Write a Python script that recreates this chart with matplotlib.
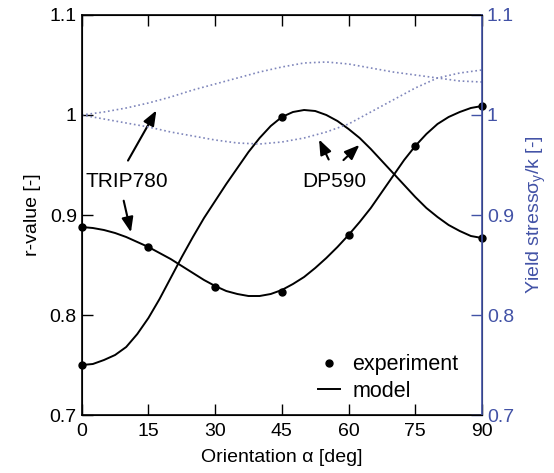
import numpy as np
import matplotlib
matplotlib.use("Agg")
import matplotlib.pyplot as plt

plt.rcParams['font.family'] = ['Liberation Sans', 'DejaVu Sans']
plt.rcParams['mathtext.default'] = 'regular'

# r-value model curves, read every 2.5 deg
angles_fine = np.arange(0, 92.5, 2.5)
r_dp590_model = [0.750, 0.751, 0.755, 0.760, 0.768, 0.781, 0.797, 0.816, 0.837, 0.858,
                 0.878, 0.897, 0.914, 0.931, 0.947, 0.963, 0.977, 0.989, 0.998, 1.003,
                 1.005, 1.004, 1.000, 0.994, 0.986, 0.977, 0.966, 0.954, 0.942, 0.930,
                 0.918, 0.907, 0.898, 0.890, 0.884, 0.879, 0.877]
r_trip780_model = [0.888, 0.887, 0.885, 0.882, 0.878, 0.873, 0.868, 0.862, 0.856, 0.849,
                   0.842, 0.835, 0.829, 0.824, 0.821, 0.819, 0.819, 0.821, 0.825, 0.831,
                   0.838, 0.847, 0.857, 0.868, 0.880, 0.893, 0.907, 0.923, 0.939, 0.955,
                   0.969, 0.981, 0.991, 0.998, 1.003, 1.007, 1.009]

# yield stress model curves, read every 5 deg
angles = np.arange(0, 95, 5)
ys_trip780_model = [1.000, 1.003, 1.007, 1.012, 1.018, 1.025, 1.031, 1.037, 1.043, 1.048,
                    1.052, 1.053, 1.051, 1.047, 1.043, 1.040, 1.037, 1.034, 1.033]
ys_dp590_model = [1.000, 0.996, 0.992, 0.988, 0.983, 0.979, 0.975, 0.972, 0.971, 0.973,
                  0.977, 0.983, 0.991, 1.003, 1.015, 1.027, 1.037, 1.042, 1.045]

# experiments
exp_dp590_angles = [0, 45, 90]
exp_dp590_r = [0.750, 0.998, 0.877]
exp_trip780_angles = [0, 15, 30, 45, 60, 75, 90]
exp_trip780_r = [0.888, 0.868, 0.828, 0.823, 0.880, 0.969, 1.009]

xticks = [0, 15, 30, 45, 60, 75, 90]
yticks = [0.7, 0.8, 0.9, 1.0, 1.1]
ytick_labels = ['0.7', '0.8', '0.9', '1', '1.1']

blue = '#4252a6'
dotc = '#7f86bb'

fig = plt.figure(figsize=(5.54, 4.73), dpi=100)
ax = fig.add_axes([0.1475, 0.1226, 0.7225, 0.8457])
ax2 = ax.twinx()

ax2.plot(angles, ys_trip780_model, ':', color=dotc, lw=1.2)
ax2.plot(angles, ys_dp590_model, ':', color=dotc, lw=1.2)

ax.plot(angles_fine, r_dp590_model, '-', color='black', lw=1.4)
ax.plot(angles_fine, r_trip780_model, '-', color='black', lw=1.4, label='model')
ax.plot(exp_dp590_angles, exp_dp590_r, 'o', color='black', ms=5, clip_on=False)
ax.plot(exp_trip780_angles, exp_trip780_r, 'o', color='black', ms=5, clip_on=False,
        label='experiment')

ax.set_xlim(0, 90)
ax.set_ylim(0.7, 1.1)
ax2.set_ylim(0.7, 1.1)
ax.set_xticks(xticks)
ax.set_yticks(yticks)
ax.set_yticklabels(ytick_labels)
ax2.set_yticks(yticks)
ax2.set_yticklabels(ytick_labels)

ax.tick_params(axis='x', direction='in', top=True, length=8, width=1, labelsize=14, pad=6)
ax.tick_params(axis='y', direction='in', length=8, width=1, labelsize=14)
ax2.tick_params(axis='y', direction='in', length=8, width=1, labelsize=14,
                colors=blue)
ax2.spines['right'].set_color(blue)
for s in ['left', 'bottom', 'top']:
    ax.spines[s].set_linewidth(1.2)
ax2.spines['right'].set_linewidth(1.2)

ax.set_xlabel('Orientation α [deg]', fontsize=14, labelpad=6)
ax.set_ylabel('r-value [-]', fontsize=14, labelpad=6)
ax2.set_ylabel('Yield stressσ$_y$/k [-]', fontsize=14, color=blue, labelpad=8)

arw = dict(arrowstyle='-|>,head_length=0.9,head_width=0.35', color='black', lw=1.5)
ax.text(10.2, 0.934, 'TRIP780', fontsize=15, ha='center', va='center')
ax.annotate('', xy=(17.1, 1.007), xytext=(10.1, 0.952), arrowprops=arw)
ax.annotate('', xy=(11.2, 0.880), xytext=(9.3, 0.917), arrowprops=arw)
ax.text(56.9, 0.934, 'DP590', fontsize=15, ha='center', va='center')
ax.annotate('', xy=(53.1, 0.978), xytext=(55.8, 0.953), arrowprops=arw)
ax.annotate('', xy=(62.9, 0.972), xytext=(58.4, 0.953), arrowprops=arw)

h, l = ax.get_legend_handles_labels()
ax.legend(h[::-1], l[::-1], loc='lower right', frameon=False, fontsize=15.5,
          handlelength=1.0, handletextpad=0.6, labelspacing=0.25,
          bbox_to_anchor=(0.99, -0.015))

fig.savefig('out.png', dpi=100)
